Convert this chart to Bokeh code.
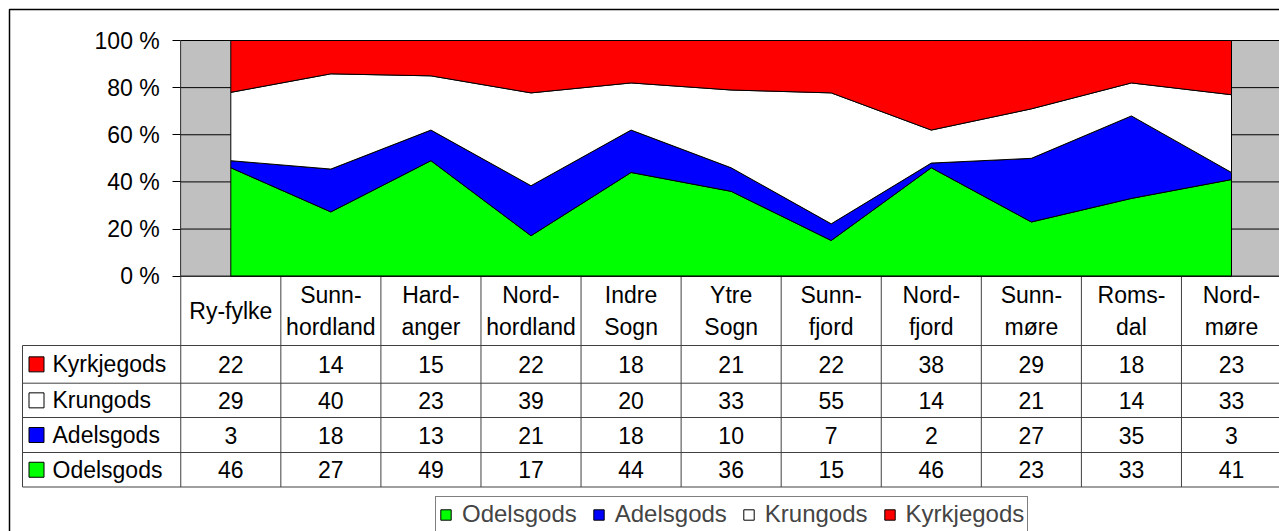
from bokeh.plotting import figure
from bokeh.models import Range1d, LinearAxis, FixedTicker, Legend, LegendItem
from bokeh.core.properties import value
from bokeh.embed import file_html
from bokeh.resources import INLINE

# ---------------- data ----------------
categories = ["Ry-fylke", "Sunn-\nhordland", "Hard-\nanger", "Nord-\nhordland", "Indre\nSogn",
              "Ytre\nSogn", "Sunn-\nfjord", "Nord-\nfjord", "Sunn-\nmøre", "Roms-\ndal", "Nord-\nmøre"]
odelsgods = [46, 27, 49, 17, 44, 36, 15, 46, 23, 33, 41]
adelsgods = [3, 18, 13, 21, 18, 10, 7, 2, 27, 35, 3]
krungods = [29, 40, 23, 39, 20, 33, 55, 14, 21, 14, 33]
kyrkjegods = [22, 14, 15, 22, 18, 21, 22, 38, 29, 18, 23]
series_names = ["Odelsgods", "Adelsgods", "Krungods", "Kyrkjegods"]
series_colors = ["#00FF00", "#0000FF", "#FFFFFF", "#FF0000"]
y_ticks = [0, 20, 40, 60, 80, 100]
y_tick_labels = ["0 %", "20 %", "40 %", "60 %", "80 %", "100 %"]

series_values = [odelsgods, adelsgods, krungods, kyrkjegods]
n = len(categories)

# ---------------- layout (page pixels -> data) ----------------
W, H = 1279, 531
PAGE = 0
COL_W = 100.07
X_C0 = 230.3
Y_100, Y_0 = 40.0, 275.7
FONT = "Liberation Sans"
FS = "23px"
LFS = "24px"


def xd(px):
    return (px - X_C0) / COL_W


def yd(py):
    return (Y_0 - py) * 100.0 / (Y_0 - Y_100)


p = figure(width=W, height=H,
           x_range=Range1d(xd(PAGE), xd(PAGE + W)),
           y_range=Range1d(yd(PAGE + H), yd(PAGE)),
           min_border=0, toolbar_location=None, output_backend="svg",
           x_axis_location=None, y_axis_location=None)
p.outline_line_color = None
p.grid.visible = False
p.background_fill_color = "white"
p.border_fill_color = "white"

# plot area (gray walls)
p.quad(left=-0.5, right=n - 0.5, bottom=y_ticks[0], top=y_ticks[-1],
       fill_color="#C0C0C0", line_color="#808080", line_width=1)
# gridlines
p.segment(x0=[-0.5] * (len(y_ticks) - 1), x1=[n - 0.5] * (len(y_ticks) - 1),
          y0=y_ticks[1:], y1=y_ticks[1:], line_color="black", line_width=1)

# 100% stacked areas
totals = [sum(s[i] for s in series_values) for i in range(n)]
bottom = [0.0] * n
renderers = []
xs = list(range(n))
for name, vals, col in zip(series_names, series_values, series_colors):
    top = [b + v * 100.0 / t for b, v, t in zip(bottom, vals, totals)]
    r = p.patch(x=xs + xs[::-1], y=top + bottom[::-1], fill_color=col,
                line_color="black", line_width=1)
    renderers.append(r)
    bottom = top

# y axis
yaxis = LinearAxis(fixed_location=-0.5, bounds=(y_ticks[0], y_ticks[-1]),
                   ticker=FixedTicker(ticks=y_ticks),
                   major_label_overrides={t: l for t, l in zip(y_ticks, y_tick_labels)})
yaxis.major_tick_in = 0
yaxis.major_tick_out = 8
yaxis.minor_tick_in = 0
yaxis.minor_tick_out = 0
yaxis.axis_line_color = "#404040"
yaxis.major_tick_line_color = "black"
yaxis.major_label_text_font = FONT
yaxis.major_label_text_font_size = FS
yaxis.major_label_text_color = "black"
yaxis.major_label_standoff = 13
p.add_layout(yaxis, "left")

# ---------------- data table ----------------
row_lines = [345.0, 382.7, 417.0, 452.0, 486.5]
table_left = 22.0
line_col = "#404040"
y_bottom = yd(row_lines[-1])
# vertical column lines
p.segment(x0=[i - 0.5 for i in range(n + 1)], x1=[i - 0.5 for i in range(n + 1)],
          y0=[0] * (n + 1), y1=[y_bottom] * (n + 1), line_color=line_col, line_width=1)
p.segment(x0=[xd(table_left)], x1=[xd(table_left)], y0=[yd(row_lines[0])], y1=[y_bottom],
          line_color=line_col, line_width=1)
# horizontal lines
p.segment(x0=[xd(table_left)] * len(row_lines), x1=[n - 0.5] * len(row_lines),
          y0=[yd(r) for r in row_lines], y1=[yd(r) for r in row_lines],
          line_color=line_col, line_width=1)
p.segment(x0=[-0.5], x1=[n - 0.5], y0=[0], y1=[0], line_color="black", line_width=1)

# header (category names)
p.text(x=xs, y=[yd((Y_0 + row_lines[0]) / 2)] * n, text=categories,
       text_font=value(FONT), text_font_size=FS, text_align="center",
       text_baseline="middle", text_line_height=1.25, text_color="black")

# rows (top to bottom: reversed series order)
row_order = list(range(len(series_names)))[::-1]
row_centers = [yd((row_lines[k] + row_lines[k + 1]) / 2) for k in range(len(row_order))]
tx, ty, tt = [], [], []
for k, si in enumerate(row_order):
    for i in range(n):
        tx.append(i)
        ty.append(row_centers[k])
        tt.append(str(series_values[si][i]))
p.text(x=tx, y=ty, text=tt, text_font=value(FONT), text_font_size=FS,
       text_align="center", text_baseline="middle", text_color="black")

# row keys + names
p.rect(x=[xd(36)] * len(row_order), y=row_centers, width=15, height=15,
       width_units="screen", height_units="screen",
       fill_color=[series_colors[si] for si in row_order], line_color="black", line_width=1)
p.text(x=[xd(52)] * len(row_order), y=row_centers, text=[series_names[si] for si in row_order],
       text_font=value(FONT), text_font_size=FS, text_align="left", text_baseline="middle",
       text_color="black")

# outer chart border
p.quad(left=xd(9), right=xd(5000), top=yd(9), bottom=yd(5000), fill_color=None,
       line_color="black", line_width=1.5)

# legend
legend = Legend(items=[LegendItem(label=nm, renderers=[r]) for nm, r in zip(series_names, renderers)],
                orientation="horizontal", location=(435, -1))
legend.border_line_color = "black"
legend.border_line_width = 1
legend.background_fill_color = "white"
legend.background_fill_alpha = 1
legend.label_text_font = FONT
legend.label_text_font_size = LFS
legend.glyph_width = 13
legend.glyph_height = 13
legend.label_standoff = 10
legend.spacing = 15
legend.padding = 3
legend.margin = 0
p.add_layout(legend)

open("out.html", "w").write(file_html(p, INLINE))
